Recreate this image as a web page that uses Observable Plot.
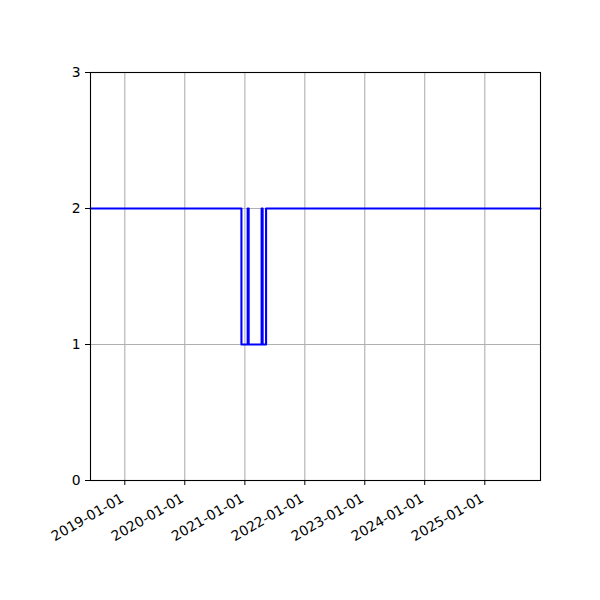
<!DOCTYPE html>
<html>
<head>
<meta charset="utf-8">
<script src="https://cdn.jsdelivr.net/npm/d3@7"></script>
<script src="https://cdn.jsdelivr.net/npm/@observablehq/plot@0.6"></script>
<style>
  html, body { margin: 0; padding: 0; background: #fff; }
  #chart svg { font-family: "DejaVu Sans", sans-serif; }
</style>
</head>
<body>
<div id="chart"></div>
<script>
// Data: change points of a step series (value holds until the next date)
const changeDates = ["2018-06-06", "2020-12-11", "2021-01-18", "2021-01-24", "2021-04-13", "2021-04-19", "2021-05-10", "2025-12-06"];
const changeValues = [2, 1, 2, 1, 2, 1, 2, 2];
const xTickLabels = ["2019-01-01", "2020-01-01", "2021-01-01", "2022-01-01", "2023-01-01", "2024-01-01", "2025-01-01"];
const yTicks = [0, 1, 2, 3];
const xDomain = ["2018-06-06", "2025-12-06"];

const data = changeDates.map((d, i) => ({date: new Date(d + "T00:00:00Z"), value: changeValues[i]}));
const xTicks = xTickLabels.map(d => new Date(d + "T00:00:00Z"));
const fmt = d3.utcFormat("%Y-%m-%d");

const chart = Plot.plot({
  width: 600,
  height: 600,
  marginLeft: 90,
  marginRight: 60,
  marginTop: 72,
  marginBottom: 120,
  style: {fontFamily: "DejaVu Sans, sans-serif", fontSize: "13.9px", color: "black", background: "white"},
  x: {type: "utc", domain: xDomain.map(d => new Date(d + "T00:00:00Z"))},
  y: {domain: [0, 3]},
  marks: [
    Plot.gridX(xTicks, {stroke: "#b0b0b0", strokeOpacity: 1, strokeWidth: 1.1}),
    Plot.gridY(yTicks, {stroke: "#b0b0b0", strokeOpacity: 1, strokeWidth: 1.1}),
    Plot.line(data, {x: "date", y: "value", curve: "step-after", stroke: "blue", strokeWidth: 2.1}),
    Plot.frame({stroke: "black", strokeWidth: 1.1}),
    Plot.axisX(xTicks, {tickSize: 5, text: null, label: null}),
    Plot.text(xTicks, {
      x: d => d,
      text: d => fmt(d),
      frameAnchor: "bottom",
      textAnchor: "end",
      lineAnchor: "top",
      rotate: -30,
      dx: -5,
      dy: 12,
      fontSize: 13.9,
      fill: "black"
    }),
    Plot.axisY(yTicks, {tickSize: 5, tickPadding: 5, fontSize: 13.9, tickFormat: d3.format("d"), label: null})
  ]
});
document.getElementById("chart").appendChild(chart);
</script>
</body>
</html>
